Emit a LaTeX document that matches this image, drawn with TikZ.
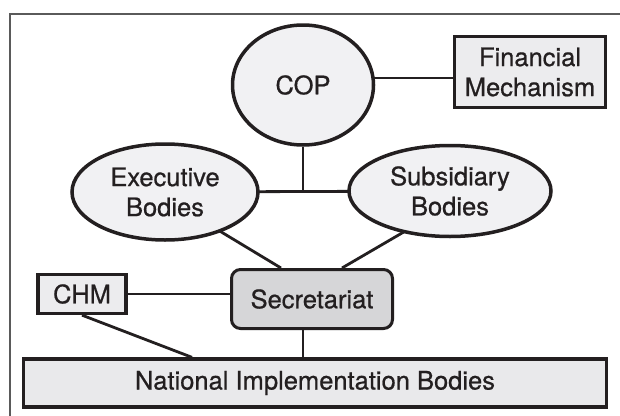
\documentclass[tikz,border=0pt]{standalone}
\usepackage{fontspec}
\setmainfont[FakeBold=0.7]{TeX Gyre Heros}
\usetikzlibrary{shapes.geometric,backgrounds}
\definecolor{ellfill}{HTML}{F1F1F3}
\definecolor{boxfill}{HTML}{ECECEE}
\definecolor{natfill}{HTML}{E9E9EB}
\definecolor{secfill}{HTML}{D6D6D8}
\definecolor{framegray}{HTML}{5A5A5A}
\definecolor{ink}{HTML}{231F20}
\tikzset{
  every node/.style={font=\fontsize{25.5}{30}\selectfont, text=ink, align=center, inner sep=0pt},
  ell/.style={ellipse, draw=ink, line width=3.5pt, fill=ellfill},
  sqbox/.style={rectangle, draw=ink, line width=3.3pt, fill=boxfill},
  secbox/.style={rectangle, rounded corners=9pt, draw=ink, line width=3pt, fill=secfill},
  conn/.style={draw=ink, line width=2.8pt},
}
\begin{document}
\begin{tikzpicture}[x=1pt,y=-1pt]
\useasboundingbox (0,0) rectangle (620,415);
\draw[framegray, line width=2pt] (10,416) -- (10,14) -- (621,14);

\node[ell, minimum width=141pt, minimum height=120pt] (COP) at (303,85) {COP};
\node[sqbox, minimum width=151pt, minimum height=71pt] (fin) at (530,72) {Financial\\Mechanism};
\node[ell, minimum width=186pt, minimum height=96pt] (EB) at (165,192) {Executive\\Bodies};
\node[ell, minimum width=202pt, minimum height=91pt] (SB) at (450,191) {Subsidiary\\Bodies};
\node[secbox, minimum width=161pt, minimum height=59pt] (Sec) at (312,299) {Secretariat};
\node[sqbox, minimum width=88pt, minimum height=39pt] (CHM) at (82,294) {CHM};
\node[sqbox, fill=natfill, minimum width=583pt, minimum height=48pt] (Nat) at (315,383) {National Implementation Bodies};

\begin{scope}[on background layer]
  \draw[conn] ([yshift=-6pt]fin.west) -- ([yshift=-6pt]fin.west -| COP.center);
  \draw[conn] (COP.south) -- (COP.south |- EB.east);
  \draw[conn] (EB.center) -- (SB.center);
  \draw[conn] ([xshift=-10pt]EB.center) -- ([xshift=51pt]Sec.north west);
  \draw[conn] ([xshift=24pt]SB.center) -- ([xshift=-52pt]Sec.north east);
  \draw[conn] (CHM.center) -- (CHM.center -| Sec.center);
  \draw[conn] (CHM.south) -- ([xshift=-123pt]Nat.north);
  \draw[conn] (Sec.center -| COP.south) -- (Nat.north -| COP.south);
\end{scope}
\end{tikzpicture}
\end{document}
